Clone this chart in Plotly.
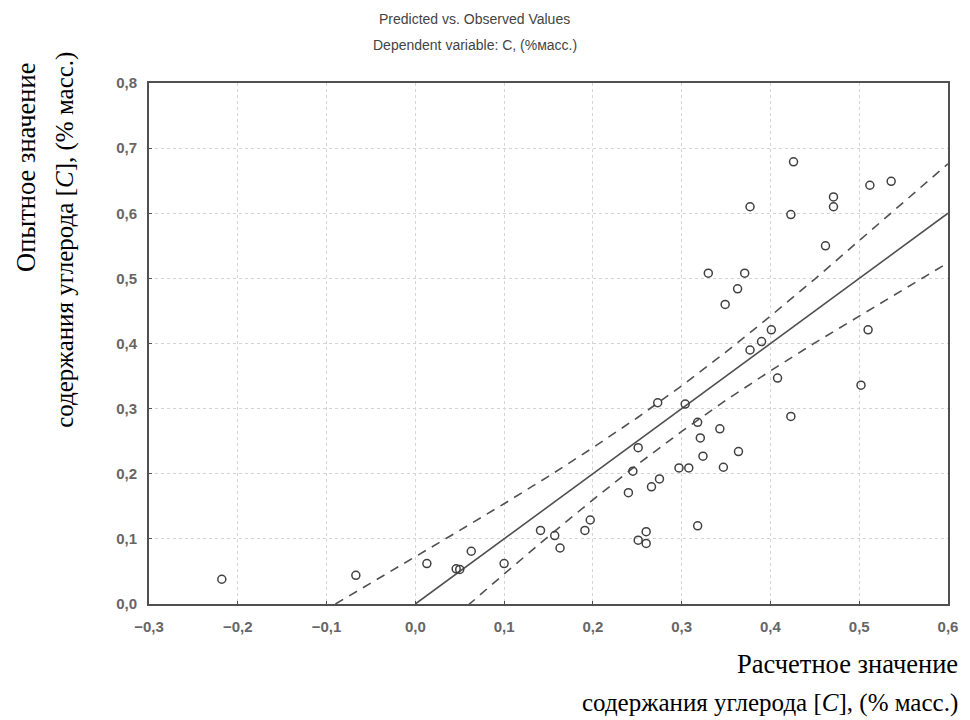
import plotly.graph_objects as go

# Observed vs predicted points (predicted, observed)
pred = [-0.218, -0.067, 0.013, 0.046, 0.050, 0.063, 0.100,
        0.141, 0.157, 0.163, 0.191, 0.197, 0.240, 0.245, 0.251, 0.251,
        0.260, 0.260, 0.266, 0.275, 0.273, 0.297, 0.308, 0.304, 0.318,
        0.321, 0.324, 0.318, 0.343, 0.347, 0.364, 0.408, 0.423, 0.502,
        0.426, 0.512, 0.536, 0.471, 0.471, 0.377, 0.423, 0.462, 0.330,
        0.371, 0.363, 0.349, 0.401, 0.390, 0.377, 0.510]
obs = [0.038, 0.044, 0.062, 0.054, 0.053, 0.081, 0.062,
       0.113, 0.105, 0.086, 0.113, 0.129, 0.171, 0.204, 0.240, 0.098,
       0.111, 0.093, 0.180, 0.192, 0.309, 0.209, 0.209, 0.307, 0.279,
       0.255, 0.227, 0.120, 0.269, 0.210, 0.234, 0.347, 0.288, 0.336,
       0.679, 0.643, 0.649, 0.625, 0.610, 0.610, 0.598, 0.550, 0.508,
       0.508, 0.484, 0.460, 0.421, 0.403, 0.390, 0.421]

# Regression line
fit_x = [0.0, 0.6]
fit_y = [0.0, 0.6]

# Confidence band
band_x = [-0.09, -0.05, 0.0, 0.05, 0.1, 0.15, 0.2, 0.25, 0.3, 0.35, 0.4, 0.45, 0.5, 0.55, 0.6]
upper = [0.000, 0.032, 0.072, 0.113, 0.154, 0.196, 0.240, 0.286, 0.335, 0.387, 0.442, 0.499, 0.558, 0.617, 0.676]
lower = [-0.180, -0.132, -0.072, -0.013, 0.046, 0.104, 0.160, 0.214, 0.265, 0.313, 0.358, 0.401, 0.442, 0.483, 0.524]

x_ticks = [-0.3, -0.2, -0.1, 0.0, 0.1, 0.2, 0.3, 0.4, 0.5, 0.6]
y_ticks = [0.0, 0.1, 0.2, 0.3, 0.4, 0.5, 0.6, 0.7, 0.8]

title_lines = ["Predicted vs. Observed Values", "Dependent variable: C, (%масс.)"]
y_title_lines = ["Опытное значение", "содержания углерода [<i>C</i>], (% масс.)"]
x_title_lines = ["Расчетное значение", "содержания углерода [<i>C</i>], (% масс.)"]

line_col = "#505050"

fig = go.Figure()
fig.add_trace(go.Scatter(x=band_x, y=upper, mode="lines",
                         line=dict(color=line_col, width=1.6, dash="9px,7px")))
fig.add_trace(go.Scatter(x=band_x, y=lower, mode="lines",
                         line=dict(color=line_col, width=1.6, dash="9px,7px")))
fig.add_trace(go.Scatter(x=fit_x, y=fit_y, mode="lines",
                         line=dict(color=line_col, width=1.6)))
fig.add_trace(go.Scatter(x=pred, y=obs, mode="markers",
                         marker=dict(symbol="circle-open", size=8, color="#404040",
                                     line=dict(color="#404040", width=1.5)),
                         cliponaxis=False))

axis_common = dict(showgrid=True, gridcolor="#d4d4d4", griddash="dot", gridwidth=1,
                   zeroline=False, showline=True, linecolor="#505050", linewidth=2,
                   mirror=True, ticks="inside", ticklen=3, tickcolor="#505050",
                   tickfont=dict(family="Arial, Liberation Sans", size=15,
                                 color="#666666", weight="bold"))

fig.update_xaxes(range=[-0.3, 0.6], tickvals=x_ticks, tickformat=".1f",
                 ticklabelstandoff=8, **axis_common)
fig.update_yaxes(range=[0.0, 0.8], tickvals=y_ticks, tickformat=".1f",
                 ticklabelstandoff=7, **axis_common)

serif1 = dict(family="Liberation Serif, Times New Roman", size=26.5, color="black")
serif2 = dict(family="Liberation Serif, Times New Roman", size=25, color="black")
sans = dict(family="Arial, Liberation Sans", size=14, color="#444444")

annotations = [
    dict(text=title_lines[0], xref="paper", yref="paper", x=0.408, y=1, yshift=64,
         showarrow=False, xanchor="center", yanchor="middle", font=sans),
    dict(text=title_lines[1], xref="paper", yref="paper", x=0.408, y=1, yshift=38,
         showarrow=False, xanchor="center", yanchor="middle", font=sans),
    dict(text=y_title_lines[0], xref="paper", yref="paper", x=0, xshift=-123, y=0.837,
         showarrow=False, textangle=-90, xanchor="center", yanchor="middle", font=serif1),
    dict(text=y_title_lines[1], xref="paper", yref="paper", x=0, xshift=-84, y=0.699,
         showarrow=False, textangle=-90, xanchor="center", yanchor="middle", font=serif2),
    dict(text=x_title_lines[0], xref="paper", yref="paper", x=1, xshift=12, y=0, yshift=-60,
         showarrow=False, xanchor="right", yanchor="middle", font=serif1),
    dict(text=x_title_lines[1], xref="paper", yref="paper", x=1, xshift=12, y=0, yshift=-99,
         showarrow=False, xanchor="right", yanchor="middle", font=serif2),
]

fig.update_layout(
    width=962, height=712,
    margin=dict(l=141, r=15, t=75, b=116),
    plot_bgcolor="white", paper_bgcolor="white",
    showlegend=False,
    separators=", ",
    annotations=annotations,
)

fig.write_html("out.html")
